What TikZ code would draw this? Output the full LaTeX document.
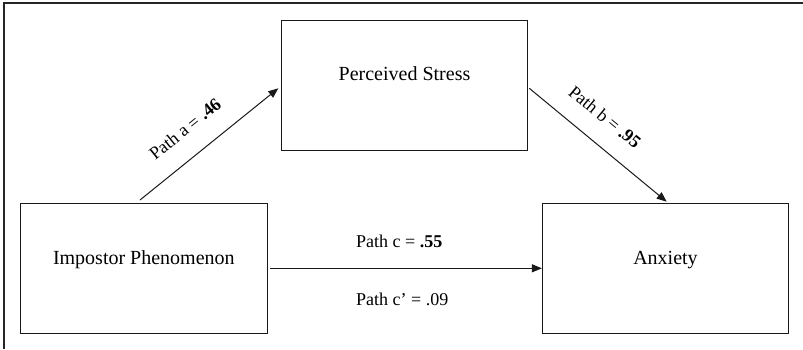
\documentclass[tikz,border=0pt]{standalone}
\usepackage{fontspec}
\setmainfont{Liberation Serif}
\usetikzlibrary{arrows.meta,calc}
\tikzset{
  varbox/.style={draw=black!90, line width=0.8pt, minimum width=246.4pt, minimum height=130pt, inner sep=0pt},
  boxtext/.style={font=\fontsize{20}{24}\selectfont, anchor=base, inner sep=0pt},
  pathtext/.style={font=\fontsize{18}{22}\selectfont, inner sep=0pt},
  patharrow/.style={draw=black!90, line width=1pt, -{Triangle[length=10pt,width=8pt]}},
  frameline/.style={draw=black!85, line width=1.4pt}
}
\begin{document}
\begin{tikzpicture}[x=1pt,y=-1pt]
\useasboundingbox (0,0) rectangle (803,349);
% outer frame (top and left only)
\coordinate (fr1) at (803,3);
\coordinate (fr2) at (4,3);
\coordinate (fr3) at (4,349);
\draw[frameline] (fr1) -- (fr2) -- (fr3);
% boxes
\node[varbox] (ps)  at (404.5,85) {};
\node[varbox] (imp) at (143.85,268.3) {};
\node[varbox] (anx) at (665.5,268.3) {};
\node[boxtext] (pst) at ([yshift=-61pt]ps.north) {Perceived Stress};
\node[boxtext] (impt) at ([yshift=-62pt]imp.north) {Impostor Phenomenon};
\node[boxtext] (anxt) at ([yshift=-62pt]anx.north) {Anxiety};
% arrows
\coordinate (aS) at (140,200);
\coordinate (aE) at (278.3,88.3);
\coordinate (bS) at (529.3,88.3);
\coordinate (bE) at (666.7,201.7);
\draw[patharrow] (aS) -- (aE);
\draw[patharrow] (bS) -- (bE);
\draw[patharrow, line width=1.2pt] ([xshift=3pt]imp.east) -- (anx.west);
% labels
\node[pathtext, rotate=39] (la) at (185,129) {Path a = \textbf{.46}};
\node[pathtext, rotate=-39.5] (lb) at (605,117) {Path b = \textbf{.95}};
\node[pathtext, anchor=base west] (lc) at (356,247) {Path c = \textbf{.55}};
\node[pathtext, anchor=base west] (lcp) at (356,305) {Path c’ = .09};
\end{tikzpicture}
\end{document}
